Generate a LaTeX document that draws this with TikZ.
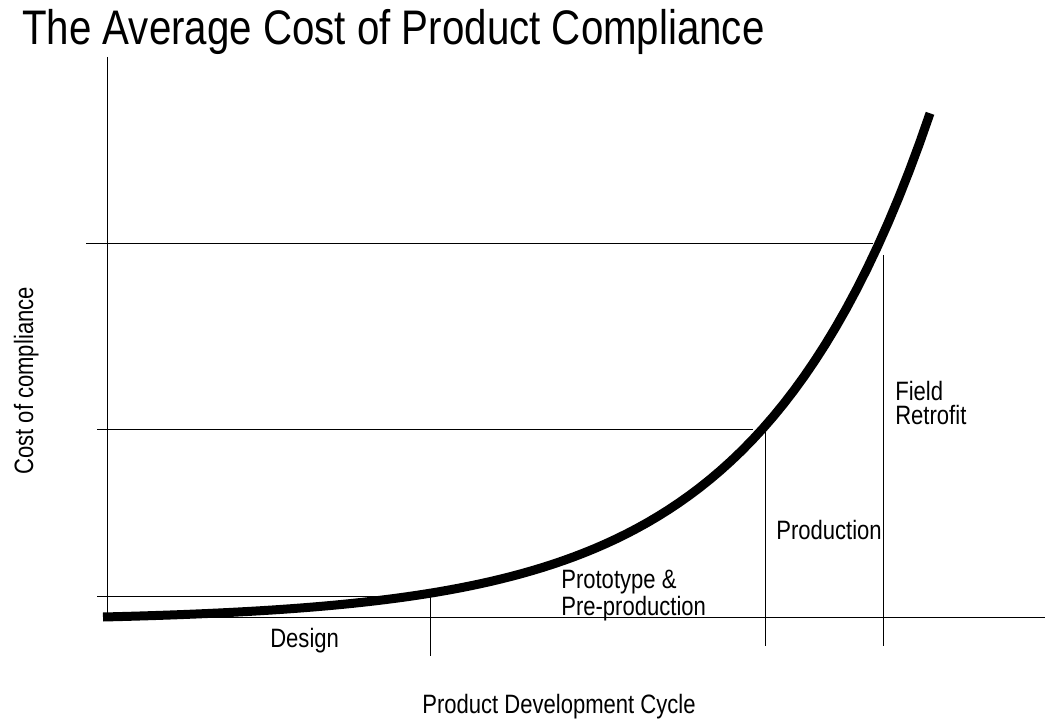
\documentclass[tikz,border=0pt]{standalone}
\usepackage{fontspec}
\setmainfont[FakeStretch=0.83]{Liberation Sans}
\usepackage{tikz}

\begin{document}
\begin{tikzpicture}[x=0.025cm,y=-0.025cm,
  grid line/.style={line width=0.7pt},
  cost curve/.style={line width=6.4pt},
  lbl/.style={anchor=base west,inner sep=0pt,align=left,font=\fontsize{18.9}{22}\selectfont}]
\useasboundingbox (0,0) rectangle (1045,721);
% axes
\coordinate (top) at (107,57);
\coordinate (origin) at (107,617);
\coordinate (right) at (1045,617);
\draw[grid line] (top) -- (origin) -- (right);
% cost levels
\draw[grid line] (86,243) -- (873,243);
\draw[grid line] (97,429) -- (753,429);
\draw[grid line] (97,596) -- (430,596);
% phase borders
\draw[grid line] (430,596) -- (430,656);
\draw[grid line] (765,429) -- (765,646);
\draw[grid line] (883,255) -- (883,646);
% the curve
\draw[cost curve] plot[domain=103:930,samples=80] (\x,{617-4.2*(exp(0.0058*(\x-103))-1)});
% texts
\node[lbl,font=\fontsize{34.5}{38}\selectfont] (title) at (22,45) {The Average Cost of Product Compliance};
\node[lbl,rotate=90] (ylabel) at (33,475) {Cost of compliance};
\node[lbl] (xlabel) at (422,713) {Product Development Cycle};
\node[lbl] (design) at (270,647) {Design};
\node[lbl,font=\fontsize{18.9}{19.2}\selectfont] (proto) at (561,615) {Prototype \&\\Pre-production};
\node[lbl] (prod) at (776,539) {Production};
\node[lbl,font=\fontsize{18.9}{17}\selectfont] (retrofit) at (895,424) {Field\\Retrofit};
\end{tikzpicture}
\end{document}
